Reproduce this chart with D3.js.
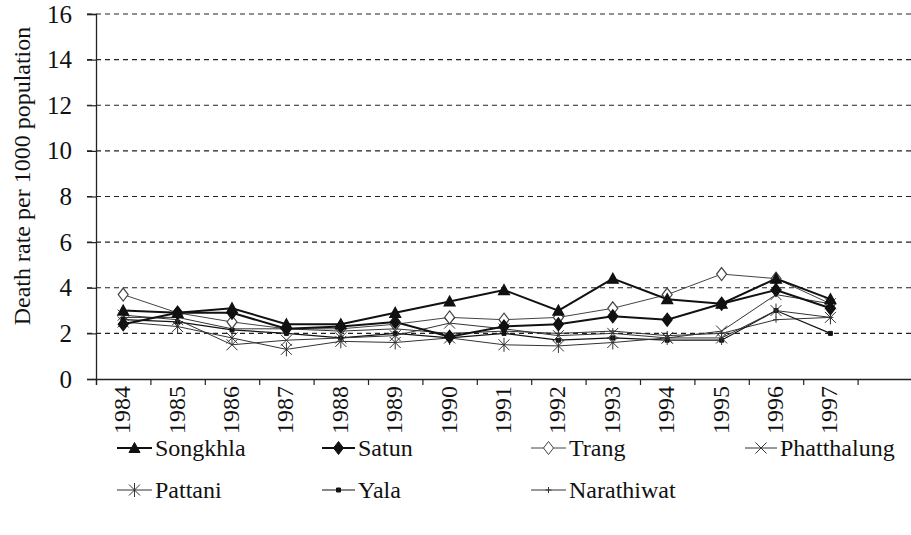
<!DOCTYPE html>
<html>
<head>
<meta charset="utf-8">
<script src="https://cdn.jsdelivr.net/npm/d3@7"></script>
<style>
  html, body { margin: 0; padding: 0; background: #fff; }
  svg { display: block; }
  svg text { font-family: "Liberation Serif", "Times New Roman", Times, "DejaVu Serif", serif !important; }
</style>
</head>
<body>
<svg id="chart" width="911" height="535"></svg>
<script>
// Crude death rate per 1000 population, southern provinces, 1984-1997
const years = [1984, 1985, 1986, 1987, 1988, 1989, 1990, 1991, 1992, 1993, 1994, 1995, 1996, 1997];
const yTicks = [0, 2, 4, 6, 8, 10, 12, 14, 16];

const songkhla   = [3.0, 2.9, 3.1, 2.4, 2.4, 2.9, 3.4, 3.9, 3.0, 4.4, 3.5, 3.3, 4.4, 3.5];
const satun      = [2.4, 2.9, 2.9, 2.2, 2.3, 2.5, 1.85, 2.3, 2.4, 2.75, 2.6, 3.3, 3.9, 3.1];
const trang      = [3.7, 2.9, 2.5, 2.2, 2.2, 2.4, 2.7, 2.6, 2.7, 3.1, 3.7, 4.6, 4.4, 3.3];
const phatthalung= [2.8, 2.6, 1.5, 1.7, 1.8, 1.9, 2.45, 2.2, 1.9, 2.0, 1.8, 2.1, 3.7, 3.3];
const pattani    = [2.5, 2.3, 1.8, 1.3, 1.65, 1.6, 1.8, 1.5, 1.45, 1.6, 1.8, 1.8, 3.0, 2.7];
const yala       = [2.6, 2.5, 2.15, 2.0, 1.8, 2.0, 1.8, 2.0, 1.7, 1.8, 1.7, 1.7, 3.0, 2.0];
const narathiwat = [2.7, 2.7, 2.2, 2.2, 2.1, 2.2, 2.0, 2.1, 2.0, 2.1, 1.9, 2.0, 2.6, 2.7];

const seriesNames = ["Songkhla", "Satun", "Trang", "Phatthalung", "Pattani", "Yala", "Narathiwat"];

// marker shapes
const shapes = {
  triangle: "M0,-5.5L5.5,4.5L-5.5,4.5Z",
  diamond: "M0,-6.5L5,0L0,6.5L-5,0Z",
  cross: "M-5.5,-5.5L5.5,5.5M-5.5,5.5L5.5,-5.5",
  star: "M-5.5,-5.5L5.5,5.5M-5.5,5.5L5.5,-5.5M0,-7L0,7",
  dot: "M-2,-2L2,-2L2,2L-2,2Z",
  plus: "M-3,0L3,0M0,-3L0,3"
};

const series = [
  { name: seriesNames[0], values: songkhla,    shape: "triangle", fill: "#111", stroke: "#111", width: 2 },
  { name: seriesNames[1], values: satun,       shape: "diamond",  fill: "#111", stroke: "#111", width: 2 },
  { name: seriesNames[2], values: trang,       shape: "diamond",  fill: "#fff", stroke: "#444", width: 1 },
  { name: seriesNames[3], values: phatthalung, shape: "cross",    fill: "none", stroke: "#333", width: 1 },
  { name: seriesNames[4], values: pattani,     shape: "star",     fill: "none", stroke: "#333", width: 1 },
  { name: seriesNames[5], values: yala,        shape: "dot",      fill: "#111", stroke: "#111", width: 1.2 },
  { name: seriesNames[6], values: narathiwat,  shape: "plus",     fill: "none", stroke: "#333", width: 1 }
];

const svg = d3.select("#chart");
const plotLeft = 96, plotRight = 912, plotTop = 14, plotBottom = 379;

// one empty category slot after the last year
const x = d3.scaleLinear().domain([years[0] - 0.5, years[years.length - 1] + 1.5]).range([plotLeft, plotRight]);
const y = d3.scaleLinear().domain([0, 16]).range([plotBottom, plotTop]);

// dashed gridlines
svg.append("g")
  .selectAll("line")
  .data(yTicks.filter(d => d > 0))
  .join("line")
  .attr("x1", plotLeft - 9).attr("x2", 911)
  .attr("y1", d => y(d)).attr("y2", d => y(d))
  .attr("stroke", "#222").attr("stroke-width", 1.2)
  .attr("stroke-dasharray", "5,4");

// y axis
const yAxis = svg.append("g")
  .attr("transform", `translate(${plotLeft},0)`)
  .call(d3.axisLeft(y).tickValues(yTicks).tickSize(9).tickPadding(15).tickFormat(d3.format("d")));
yAxis.attr("font-family", null);
yAxis.select(".domain").attr("stroke", "#222").attr("stroke-width", 1.3);
yAxis.selectAll(".tick line").attr("stroke", "#222").attr("stroke-width", 1.2);
yAxis.selectAll(".tick text").attr("font-size", 25).attr("fill", "#111");

// x axis: ticks between categories
const boundaries = d3.range(years[0] + 0.5, years[years.length - 1] + 1.6, 1);
const xAxis = svg.append("g")
  .attr("transform", `translate(0,${plotBottom})`)
  .call(d3.axisBottom(x).tickValues(boundaries).tickSize(6).tickFormat(""));
xAxis.select(".domain").attr("stroke", "#222").attr("stroke-width", 1.5);
xAxis.selectAll(".tick line").attr("stroke", "#222").attr("stroke-width", 1.2);

// rotated year labels
svg.append("g")
  .selectAll("text")
  .data(years)
  .join("text")
  .attr("transform", d => `translate(${x(d) + 7},386) rotate(-90)`)
  .attr("text-anchor", "end")
  .attr("font-size", 24)
  .attr("fill", "#111")
  .text(d => d);

// y axis title
svg.append("text")
  .attr("transform", `translate(30,${(plotTop + 330) / 2 + 4}) rotate(-90)`)
  .attr("text-anchor", "middle")
  .attr("font-size", 24)
  .attr("fill", "#111")
  .text("Death rate per 1000 population");

// lines
const line = d3.line().x((d, i) => x(years[i])).y(d => y(d));
const drawOrder = series.slice().reverse();
svg.append("g")
  .selectAll("path")
  .data(drawOrder)
  .join("path")
  .attr("d", s => line(s.values))
  .attr("fill", "none")
  .attr("stroke", s => s.stroke)
  .attr("stroke-width", s => s.width);

// markers
drawOrder.forEach(s => {
  svg.append("g")
    .selectAll("path")
    .data(s.values)
    .join("path")
    .attr("transform", (d, i) => `translate(${x(years[i])},${y(d)})`)
    .attr("d", shapes[s.shape])
    .attr("fill", s.fill)
    .attr("stroke", s.stroke)
    .attr("stroke-width", s.shape === "diamond" || s.shape === "triangle" ? 1.2 : 1);
});

// legend
const legendPos = [
  { lx: 117, tx: 155, ly: 448 },
  { lx: 322, tx: 358, ly: 448 },
  { lx: 531, tx: 569, ly: 448 },
  { lx: 745, tx: 780, ly: 448 },
  { lx: 117, tx: 155, ly: 490 },
  { lx: 322, tx: 358, ly: 490 },
  { lx: 531, tx: 569, ly: 490 }
];
const legend = svg.append("g");
series.forEach((s, i) => {
  const p = legendPos[i];
  const g = legend.append("g");
  g.append("line")
    .attr("x1", p.lx).attr("x2", p.tx - 3)
    .attr("y1", p.ly).attr("y2", p.ly)
    .attr("stroke", s.stroke).attr("stroke-width", s.width);
  g.append("path")
    .attr("transform", `translate(${(p.lx + p.tx - 3) / 2},${p.ly})`)
    .attr("d", shapes[s.shape])
    .attr("fill", s.fill).attr("stroke", s.stroke).attr("stroke-width", 1);
  g.append("text")
    .attr("x", p.tx).attr("y", p.ly + 8)
    .attr("font-size", 24)
    .attr("fill", "#111")
    .text(s.name);
});
</script>
</body>
</html>
